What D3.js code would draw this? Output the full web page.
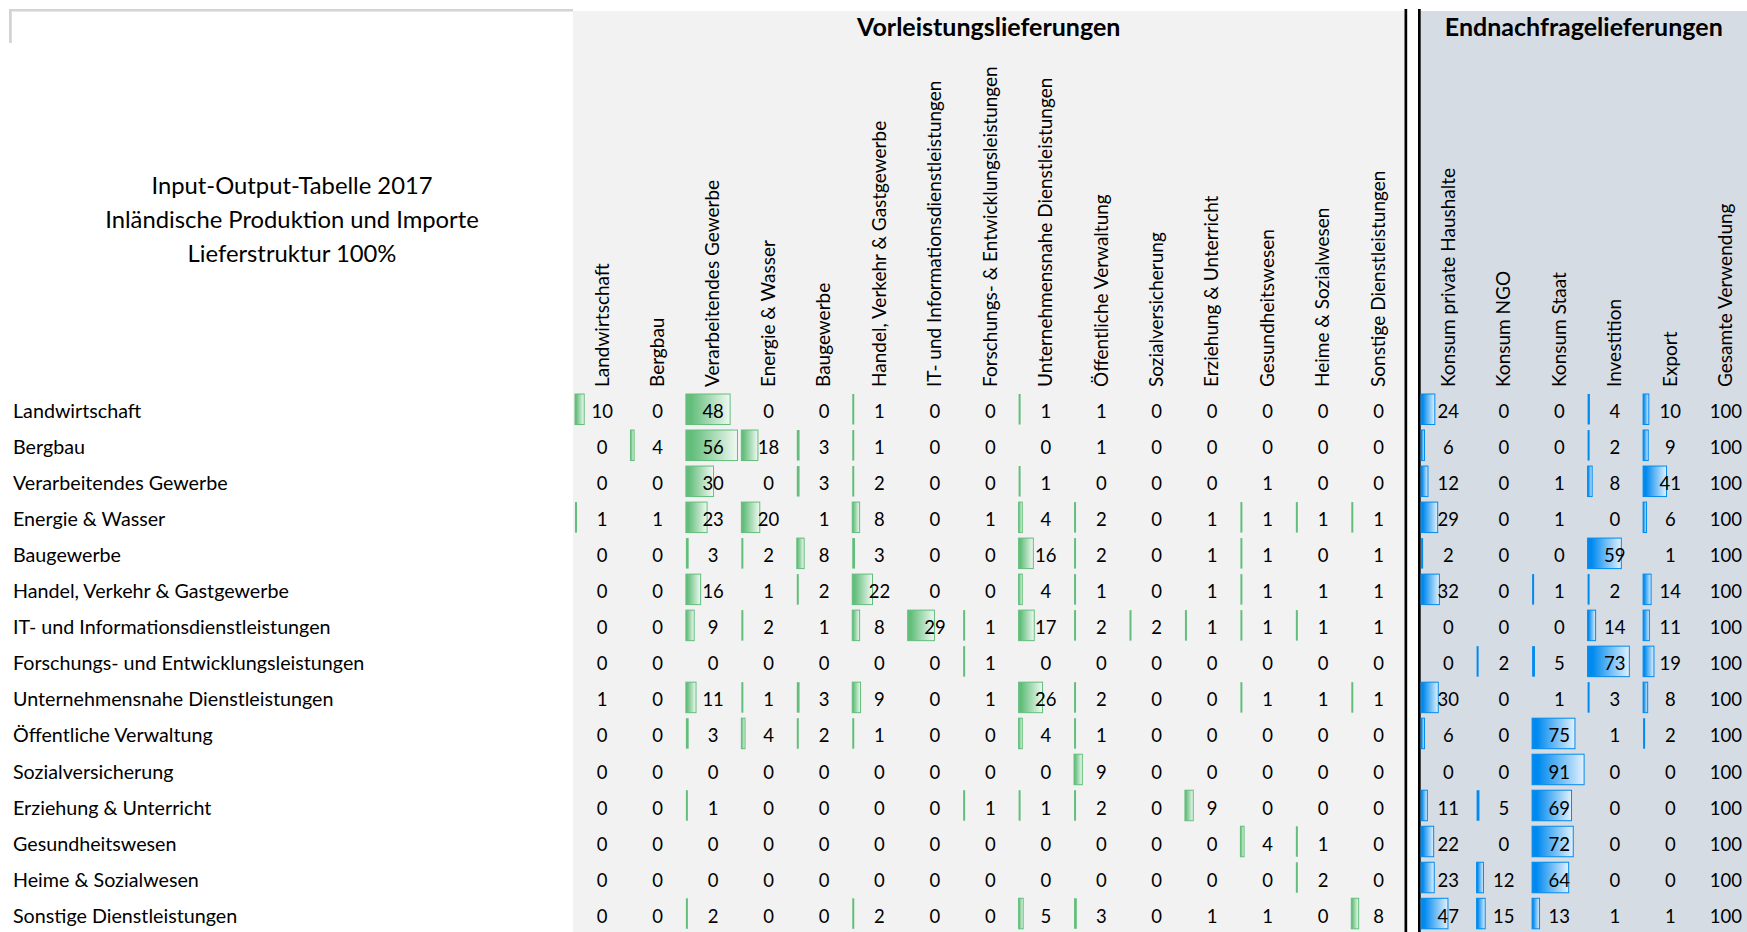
<!DOCTYPE html>
<html>
<head>
<meta charset="utf-8">
<script src="https://cdn.jsdelivr.net/npm/d3@7"></script>
<style>
  body { margin: 0; background: #fff; }
  svg { display: block; font-family: Lato, "Noto Sans", sans-serif; }
</style>
</head>
<body>
<svg id="chart"></svg>
<script>
var width = 1747,
    height = 932;

// sectors (rows = deliverers)
var rowLabels = [
    "Landwirtschaft", "Bergbau", "Verarbeitendes Gewerbe", "Energie & Wasser", "Baugewerbe",
    "Handel, Verkehr & Gastgewerbe", "IT- und Informationsdienstleistungen",
    "Forschungs- und Entwicklungsleistungen", "Unternehmensnahe Dienstleistungen",
    "Öffentliche Verwaltung", "Sozialversicherung", "Erziehung & Unterricht",
    "Gesundheitswesen", "Heime & Sozialwesen", "Sonstige Dienstleistungen"
];

// intermediate deliveries (columns = receiving sectors)
var interCols = [
    "Landwirtschaft", "Bergbau", "Verarbeitendes Gewerbe", "Energie & Wasser", "Baugewerbe",
    "Handel, Verkehr & Gastgewerbe", "IT- und Informationsdienstleistungen",
    "Forschungs- & Entwicklungsleistungen", "Unternehmensnahe Dienstleistungen",
    "Öffentliche Verwaltung", "Sozialversicherung", "Erziehung & Unterricht",
    "Gesundheitswesen", "Heime & Sozialwesen", "Sonstige Dienstleistungen"
];

var finalCols = ["Konsum private Haushalte", "Konsum NGO", "Konsum Staat", "Investition", "Export"];
var totalLabel = "Gesamte Verwendung";

// shares in % (estimated decimals where the picture shows a 1 with or without bar)
var interValues = [
    [10, 0, 48, 0, 0, 1.2, 0, 0, 1.2, 0.7, 0, 0, 0, 0, 0],
    [0, 4, 56, 18, 3, 1.2, 0, 0, 0, 0.7, 0, 0, 0, 0, 0],
    [0, 0, 30, 0, 3, 2, 0, 0, 1.2, 0, 0, 0, 0.7, 0, 0],
    [1.2, 0.7, 23, 20, 0.7, 8, 0, 0.7, 4, 2, 0, 0.7, 1.2, 1.2, 1.2],
    [0, 0, 3, 2, 8, 3, 0, 0, 16, 2, 0, 0.7, 1.2, 0, 0.7],
    [0, 0, 16, 0.7, 2, 22, 0, 0, 4, 1.2, 0, 0.7, 1.2, 0.7, 0.7],
    [0, 0, 9, 2, 0.7, 8, 29, 1.2, 17, 2, 2, 1.2, 1.2, 1.2, 0.7],
    [0, 0, 0, 0, 0, 0, 0, 1.2, 0, 0, 0, 0, 0, 0, 0],
    [0.7, 0, 11, 1.2, 3, 9, 0, 0.7, 26, 2, 0, 0, 1.2, 0.7, 1.2],
    [0, 0, 3, 4, 2, 1.2, 0, 0, 4, 1.2, 0, 0, 0, 0, 0],
    [0, 0, 0, 0, 0, 0, 0, 0, 0, 9, 0, 0, 0, 0, 0],
    [0, 0, 1.2, 0, 0, 0, 0, 1.2, 1.2, 2, 0, 9, 0, 0, 0],
    [0, 0, 0, 0, 0, 0, 0, 0, 0, 0, 0, 0, 4, 1.2, 0],
    [0, 0, 0, 0, 0, 0, 0, 0, 0, 0, 0, 0, 0, 2, 0],
    [0, 0, 2, 0, 0, 2, 0, 0, 5, 3, 0, 0.7, 0.7, 0, 8]
];

var finalValues = [
    [24, 0, 0, 4, 10],
    [6, 0, 0, 2, 9],
    [12, 0, 0.7, 8, 41],
    [29, 0, 0.7, 0, 6],
    [2, 0, 0, 59, 0.7],
    [32, 0, 1.2, 2, 14],
    [0, 0, 0, 14, 11],
    [0, 2, 5, 73, 19],
    [30, 0, 0.7, 3, 8],
    [6, 0, 75, 0.7, 2],
    [0, 0, 91, 0, 0],
    [11, 5, 69, 0, 0],
    [22, 0, 72, 0, 0],
    [23, 12, 64, 0, 0],
    [47, 15, 13, 0.7, 0.7]
];

var totalValues = [100, 100, 100, 100, 100, 100, 100, 100, 100, 100, 100, 100, 100, 100, 100];

var titleLines = ["Input-Output-Tabelle 2017", "Inländische Produktion und Importe", "Lieferstruktur 100%"];

var svg = d3.select("#chart").attr("width", width).attr("height", height);

// scales
var y = d3.scaleBand().domain(rowLabels).range([388.5, 934.3]).padding(0.153);
var xInter = d3.scaleBand().domain(interCols).range([574.5, 574.5 + 55.45 * 15]);
var xFinal = d3.scaleBand().domain(finalCols.concat([totalLabel])).range([1420.6, 1420.6 + 55.5 * 6]);

var barInter = d3.scaleLinear()
    .domain([0, d3.max(interValues.flat())])
    .range([0, 0.93 * xInter.bandwidth()]);
var barFinal = d3.scaleLinear()
    .domain([0, d3.max(finalValues.flat())])
    .range([0, 0.937 * xFinal.bandwidth()]);

// gradients like excel data bars
var defs = svg.append("defs");
function gradient(id, c0, c1) {
    var g = defs.append("linearGradient").attr("id", id);
    g.append("stop").attr("offset", "0%").attr("stop-color", c0);
    g.append("stop").attr("offset", "12%").attr("stop-color", c0);
    g.append("stop").attr("offset", "100%").attr("stop-color", c1);
}
gradient("gGreen", "#63BE7B", "#F1F9F3");
gradient("gBlue", "#008AEF", "#E3F1FC");

// background panels
svg.append("rect")
    .attr("x", 573).attr("y", 11)
    .attr("width", 1404.5 - 573).attr("height", height - 11)
    .attr("fill", "#F2F2F2");
svg.append("rect")
    .attr("x", 1420.6).attr("y", 11)
    .attr("width", width - 1420.6).attr("height", height - 11)
    .attr("fill", "#D6DCE4");

// double separator
svg.append("rect").attr("x", 1404.5).attr("y", 9).attr("width", 2.7).attr("height", height - 9).attr("fill", "#000");
svg.append("rect").attr("x", 1418).attr("y", 9).attr("width", 2.7).attr("height", height - 9).attr("fill", "#000");

// grey frame corner top left
svg.append("rect").attr("x", 9).attr("y", 9).attr("width", 564).attr("height", 2.5).attr("fill", "#D4D4D4");
svg.append("rect").attr("x", 9).attr("y", 9).attr("width", 2.8).attr("height", 34).attr("fill", "#D4D4D4");

// title
svg.append("g")
    .selectAll("text")
    .data(titleLines)
    .join("text")
    .attr("x", 292)
    .attr("y", function (d, i) {
        return 194 + i * 34;
    })
    .attr("text-anchor", "middle")
    .attr("font-size", 23.8)
    .attr("fill", "#000")
    .text(function (d) {
        return d;
    });

// section headers
svg.append("text")
    .attr("x", (573 + 1404.5) / 2).attr("y", 36)
    .attr("text-anchor", "middle")
    .attr("font-size", 25).attr("font-weight", "bold")
    .text("Vorleistungslieferungen");
svg.append("text")
    .attr("x", (1420.6 + width) / 2).attr("y", 36)
    .attr("text-anchor", "middle")
    .attr("font-size", 25).attr("font-weight", "bold")
    .text("Endnachfragelieferungen");

// row labels
svg.append("g")
    .selectAll("text")
    .data(rowLabels)
    .join("text")
    .attr("x", 13)
    .attr("y", function (d) {
        return y(d) + 24.3;
    })
    .attr("font-size", 19.7)
    .text(function (d) {
        return d;
    });

// column labels, rotated
function colLabels(scale, labels) {
    svg.append("g")
        .selectAll("text")
        .data(labels)
        .join("text")
        .attr("transform", function (d) {
            return "translate(" + (scale(d) + scale.bandwidth() / 2) + ",387) rotate(-90)";
        })
        .attr("dy", "0.33em")
        .attr("font-size", 19)
        .text(function (d) {
            return d;
        });
}
colLabels(xInter, interCols);
colLabels(xFinal, finalCols.concat([totalLabel]));

// flatten into cells
function cells(values, cols) {
    var out = [];
    values.forEach(function (row, i) {
        row.forEach(function (v, j) {
            out.push({ row: rowLabels[i], col: cols[j], value: v });
        });
    });
    return out;
}
var interCells = cells(interValues, interCols);
var finalCells = cells(finalValues, finalCols);
var totalCells = totalValues.map(function (v, i) {
    return { row: rowLabels[i], col: totalLabel, value: v };
});

function drawBars(data, xs, bar, grad, color) {
    svg.append("g")
        .selectAll("rect")
        .data(data.filter(function (d) {
            return d.value >= 1;
        }))
        .join("rect")
        .attr("x", function (d) {
            return xs(d.col) + 0.5;
        })
        .attr("y", function (d) {
            return y(d.row);
        })
        .attr("width", function (d) {
            return Math.max(2, bar(d.value));
        })
        .attr("height", y.bandwidth())
        .attr("fill", function (d) {
            return bar(d.value) > 3 ? "url(#" + grad + ")" : color;
        })
        .attr("stroke", function (d) {
            return bar(d.value) > 3 ? color : "none";
        })
        .attr("stroke-width", 1);
}
drawBars(interCells, xInter, barInter, "gGreen", "#63BE7B");
drawBars(finalCells, xFinal, barFinal, "gBlue", "#008AEF");

function drawNumbers(data, xs) {
    svg.append("g")
        .selectAll("text")
        .data(data)
        .join("text")
        .attr("x", function (d) {
            return xs(d.col) + xs.bandwidth() / 2;
        })
        .attr("y", function (d) {
            return y(d.row) + 24.3;
        })
        .attr("text-anchor", "middle")
        .attr("font-size", 18.5)
        .text(function (d) {
            return Math.round(d.value);
        });
}
drawNumbers(interCells, xInter);
drawNumbers(finalCells, xFinal);
drawNumbers(totalCells, xFinal);
</script>
</body>
</html>
